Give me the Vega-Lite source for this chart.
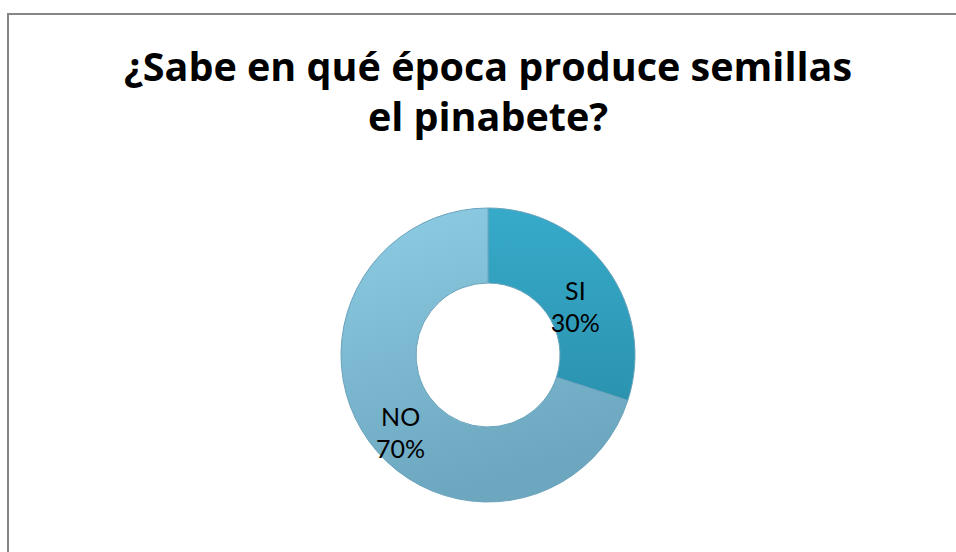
{
  "$schema": "https://vega.github.io/schema/vega-lite/v6.json",
  "width": 960,
  "height": 682,
  "autosize": {"type": "none"},
  "padding": {"left": 8, "top": 14, "right": 0, "bottom": 0},
  "background": "#ffffff",
  "view": {"stroke": "#868686", "strokeWidth": 2},
  "config": {"view": {"stroke": "#868686", "strokeWidth": 2}},
  "title": {
    "text": ["¿Sabe en qué época produce semillas", "el pinabete?"],
    "font": "Open Sans",
    "fontWeight": "bold",
    "fontSize": 39.5,
    "lineHeight": 50,
    "color": "#000000",
    "anchor": "middle",
    "frame": "group",
    "baseline": "alphabetic",
    "offset": -156
  },
  "data": {
    "values": [
      {"cat": "SI", "value": 30, "label": "SI\n30%"},
      {"cat": "NO", "value": 70, "label": "NO\n70%"}
    ]
  },
  "encoding": {
    "theta": {"field": "value", "type": "quantitative", "stack": true},
    "order": {"field": "value", "type": "quantitative", "sort": "ascending"}
  },
  "layer": [
    {
      "mark": {"type": "arc", "outerRadius": 147, "innerRadius": 72, "stroke": "#6aa3bb", "strokeWidth": 1},
      "encoding": {
        "fill": {
          "condition": {
            "test": "datum.cat === 'SI'",
            "value": {"gradient": "linear", "x1": 0, "y1": 0, "x2": 0, "y2": 1, "stops": [{"offset": 0, "color": "#37aaca"}, {"offset": 1, "color": "#2b93b0"}]}
          },
          "value": {"gradient": "linear", "x1": 0, "y1": 0, "x2": 0.3, "y2": 1, "stops": [{"offset": 0, "color": "#8dcde4"}, {"offset": 1, "color": "#6ca6bf"}]}
        }
      }
    },
    {
      "mark": {"type": "text", "radius": 108, "font": "Lato", "fontSize": 25, "lineBreak": "\n", "lineHeight": 32, "align": "center", "baseline": "middle", "color": "#000000"},
      "encoding": {"text": {"field": "label", "type": "nominal"}}
    }
  ]
}
